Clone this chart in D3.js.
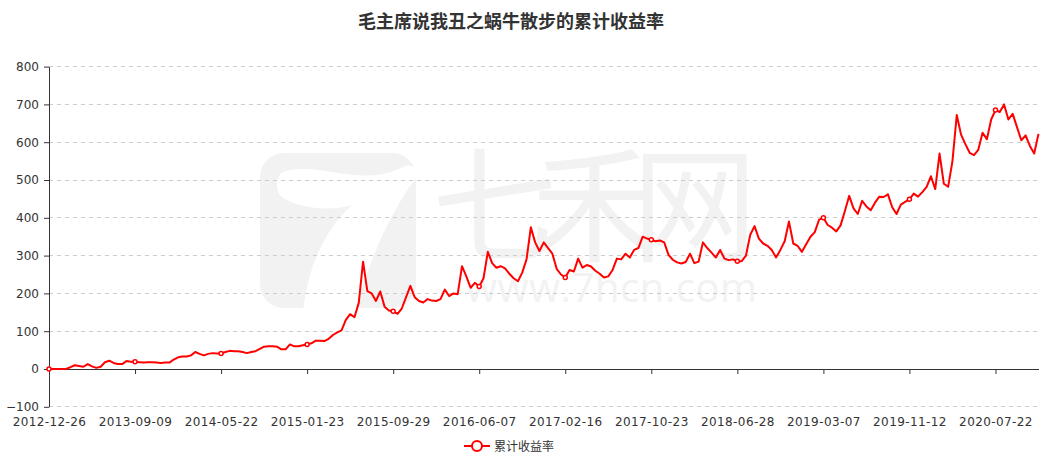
<!DOCTYPE html>
<html><head><meta charset="utf-8">
<script src="https://cdn.jsdelivr.net/npm/d3@7"></script>
<style>
body{margin:0;background:#fff;}
svg{display:block;font-family:"DejaVu Sans",sans-serif;}
</style>
</head><body>
<svg id="c" width="1052" height="462"></svg>
<script>
const chartTitle = "毛主席说我丑之蜗牛散步的累计收益率";
const seriesName = "累计收益率";
const xLabels = ["2012-12-26","2013-09-09","2014-05-22","2015-01-23","2015-09-29","2016-06-07",
                 "2017-02-16","2017-10-23","2018-06-28","2019-03-07","2019-11-12","2020-07-22"];
const labelStep = 20;   // one date label every 20 samples
const yTicks = [-100,0,100,200,300,400,500,600,700,800];
const cumReturn = [
  0,0,0,0,0,5,10,8,6,13,7,3,6,18,22,16,13,13,21,19,
  19,18,17,18,18,17,16,17,17,25,31,33,33,36,45,40,36,40,42,41,
  41,45,48,47,47,45,42,45,47,53,59,60,60,59,52,52,65,60,60,63,
  65,68,75,75,74,80,90,97,102,130,145,137,175,284,206,200,180,205,165,155,
  153,146,160,190,220,190,180,176,185,181,180,185,210,193,200,198,272,245,215,228,
  218,240,310,280,268,272,266,252,240,232,255,290,375,335,312,335,320,305,265,250,
  242,262,258,292,268,275,271,260,252,242,245,262,292,290,305,295,315,320,350,345,
  342,338,340,335,302,289,282,279,283,305,280,284,335,320,308,295,315,292,288,290,
  285,285,300,355,378,345,332,326,315,295,315,338,390,332,326,310,330,350,362,395,
  400,381,374,364,380,418,458,425,410,445,430,420,440,456,455,462,428,410,435,442,
  449,464,456,468,482,510,476,570,490,482,550,672,620,595,572,566,580,625,608,660,
  685,680,700,660,675,640,605,618,590,570,622
];

const svg = d3.select("#c");
const L = 49, R = 1038.5, T = 66.6, B = 406.8;
const x = d3.scaleLinear().domain([0, cumReturn.length - 1]).range([L, R]);
const y = d3.scaleLinear().domain([-100, 800]).range([B, T]);
const red = "#ff0000";
const wm = "#f2f2f2";

// ---- watermark ----
const wmG = svg.append("g");
wmG.append("rect").attr("x",260).attr("y",153).attr("width",156).attr("height",155).attr("rx",24).attr("fill",wm);
wmG.append("path").attr("fill","#fff").attr("d",
  "M283,172 C320,160 360,190 405,166 C412,164 418,168 418,175 C395,205 370,255 355,312 L303,312 " +
  "C308,265 325,230 352,205 C330,212 300,208 283,198 C275,193 275,176 283,172 Z");
wmG.append("text").attr("x",432).attr("y",252).attr("font-size",125)
  .attr("font-family","'Noto Sans CJK SC'").attr("fill",wm)
  .attr("textLength",325).attr("lengthAdjust","spacing").text("七禾网");
wmG.append("text").attr("x",466).attr("y",302).attr("font-size",40)
  .attr("font-family","'Open Sans'").attr("fill",wm)
  .attr("textLength",291).attr("lengthAdjust","spacing").text("www.7hcn.com");

// ---- grid ----
svg.append("g").selectAll("line").data(yTicks).join("line")
  .attr("x1", L).attr("x2", R).attr("y1", d => y(d)).attr("y2", d => y(d))
  .attr("stroke", "#cccccc").attr("stroke-dasharray", "4,4").attr("shape-rendering","crispEdges");

// ---- y axis ----
const yAxis = svg.append("g").attr("transform", `translate(${L},0)`)
  .call(d3.axisLeft(y).tickValues(yTicks).tickSize(5).tickPadding(5).tickSizeOuter(0));
yAxis.select(".domain").attr("stroke", "#333");
yAxis.selectAll(".tick line").attr("stroke", "#333");
yAxis.selectAll("text").attr("fill", "#333").attr("font-size", 12).attr("font-family","'DejaVu Sans'");

// ---- x axis line at zero ----
const tickIdx = xLabels.map((d, i) => i * labelStep);
const xAxis = svg.append("g").attr("transform", `translate(0,${y(0)})`)
  .call(d3.axisBottom(x).tickValues(tickIdx).tickSize(5).tickSizeOuter(0).tickFormat(""));
xAxis.select(".domain").attr("stroke", "#333");
xAxis.selectAll(".tick line").attr("stroke", "#333");

// ---- x labels at bottom ----
const xLab = svg.append("g").attr("transform", `translate(0,${B})`)
  .call(d3.axisBottom(x).tickValues(tickIdx).tickSize(0).tickPadding(10.5)
    .tickFormat((d, i) => xLabels[i]));
xLab.select(".domain").remove();
xLab.selectAll("text").attr("fill", "#333").attr("font-size", 12)
  .attr("font-family","'DejaVu Sans'").attr("letter-spacing","0.4px");

// ---- line ----
const line = d3.line().x((d, i) => x(i)).y(d => y(d));
svg.append("path").datum(cumReturn).attr("d", line)
  .attr("fill", "none").attr("stroke", red).attr("stroke-width", 2)
  .attr("stroke-linejoin", "round");

// symbols at label positions
svg.append("g").selectAll("circle").data(tickIdx).join("circle")
  .attr("cx", d => x(d)).attr("cy", d => y(cumReturn[d])).attr("r", 2)
  .attr("fill", "#fff").attr("stroke", red).attr("stroke-width", 1.5);

// ---- title ----
svg.append("text").attr("x", 511).attr("y", 28).attr("text-anchor", "middle")
  .attr("font-size", 18).attr("font-weight", "bold").attr("fill", "#333")
  .attr("font-family", "'Noto Sans CJK SC'").text(chartTitle);

// ---- legend ----
const lg = svg.append("g");
lg.append("line").attr("x1", 464).attr("x2", 490).attr("y1", 446).attr("y2", 446)
  .attr("stroke", red).attr("stroke-width", 2);
lg.append("circle").attr("cx", 477).attr("cy", 446).attr("r", 5)
  .attr("fill", "#fff").attr("stroke", red).attr("stroke-width", 2);
lg.append("text").attr("x", 494).attr("y", 450.5).attr("font-size", 12).attr("fill", "#333")
  .attr("font-family", "'Noto Sans CJK SC'").text(seriesName);
</script>
</body></html>
